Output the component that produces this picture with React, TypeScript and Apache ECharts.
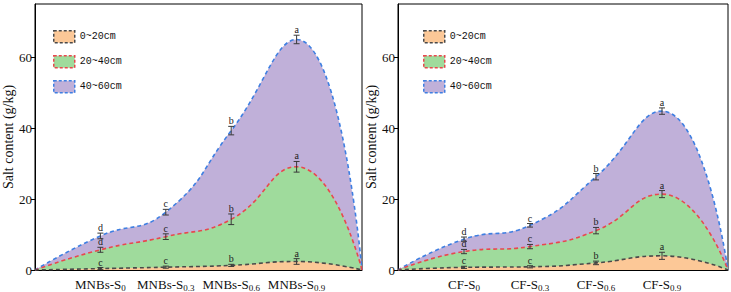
import React, { useEffect, useRef } from "react";
import * as echarts from "echarts";

// Positions on the x value axis: 0 and 5 are the zero end points, 1..4 are treatments
const xPos = [1, 2, 3, 4];
const mnbsCats = ["S0", "S0.3", "S0.6", "S0.9"];
const cfCats = ["S0", "S0.3", "S0.6", "S0.9"];
const layerNames = ["0~20cm", "20~40cm", "40~60cm"];

// MNBs treatments, salt content (g/kg) by layer
const mnbs0_20 = [0.4, 0.8, 1.3, 2.4];
const mnbs20_40 = [5.7, 9.4, 14.3, 29.1];
const mnbs40_60 = [9.6, 16.3, 39.3, 65.0];
const mnbsErr0_20 = [0.3, 0.3, 0.3, 0.8];
const mnbsErr20_40 = [0.7, 0.8, 1.5, 1.5];
const mnbsErr40_60 = [0.8, 0.8, 1.2, 1.2];
const mnbsSig0_20 = ["c", "c", "b", "a"];
const mnbsSig20_40 = ["d", "c", "b", "a"];
const mnbsSig40_60 = ["d", "c", "b", "a"];

// CF treatments, salt content (g/kg) by layer
const cf0_20 = [0.75, 0.9, 2.0, 4.0];
const cf20_40 = [5.2, 6.6, 11.1, 21.4];
const cf40_60 = [8.7, 12.6, 26.3, 44.8];
const cfErr0_20 = [0.3, 0.3, 0.5, 1.0];
const cfErr20_40 = [0.6, 0.6, 0.9, 1.0];
const cfErr40_60 = [0.6, 0.5, 0.9, 0.9];
const cfSig0_20 = ["c", "c", "b", "a"];
const cfSig20_40 = ["d", "c", "b", "a"];
const cfSig40_60 = ["d", "c", "b", "a"];

const yTicks = [0, 20, 40, 60];

const fills = ["#FCC897", "#9FDB9C", "#C0B0D9"];
const strokes = ["#4a4a4a", "#E8484E", "#3E7FE2"];

const SERIF = "'Liberation Serif', 'Times New Roman', serif";

function curve(vals: number[]) {
  return [[0, 0], ...vals.map((v, i) => [xPos[i], v]), [5, 0]];
}

function errData(vals: number[], errs: number[], sig: string[]) {
  return vals.map((v, i) => [xPos[i], v, errs[i], sig[i]]);
}

function buildPanel(
  idx: number,
  prefix: string,
  cats: string[],
  layers: number[][],
  errs: number[][],
  sigs: string[][]
) {
  const series: any[] = [];
  // draw deepest layer first so shallower ones sit on top
  for (let k = 2; k >= 0; k--) {
    series.push({
      type: "line",
      name: layerNames[k],
      xAxisIndex: idx,
      yAxisIndex: idx,
      data: curve(layers[k]),
      smooth: 0.5,
      symbol: "none",
      itemStyle: { color: fills[k] },
      lineStyle: { color: strokes[k], width: 1.6, type: [4, 3] },
      areaStyle: { color: fills[k], opacity: 1 },
      z: 2 + (2 - k),
    });
  }
  for (let k = 0; k < 3; k++) {
    series.push({
      type: "custom",
      xAxisIndex: idx,
      yAxisIndex: idx,
      data: errData(layers[k], errs[k], sigs[k]),
      encode: { x: 0, y: 1 },
      z: 10,
      silent: true,
      renderItem: (params: any, api: any) => {
        const x = api.value(0);
        const y = api.value(1);
        const e = api.value(2);
        const letter = sigs[k][params.dataIndex];
        const top = api.coord([x, y + e]);
        const bot = api.coord([x, y - e]);
        const hw = 3;
        const st = { stroke: "#3a3a3a", lineWidth: 1 };
        return {
          type: "group",
          children: [
            { type: "line", shape: { x1: top[0], y1: top[1], x2: bot[0], y2: bot[1] }, style: st },
            { type: "line", shape: { x1: top[0] - hw, y1: top[1], x2: top[0] + hw, y2: top[1] }, style: st },
            { type: "line", shape: { x1: bot[0] - hw, y1: bot[1], x2: bot[0] + hw, y2: bot[1] }, style: st },
            {
              type: "text",
              x: top[0],
              y: top[1] - 0.5,
              style: {
                text: letter,
                fill: "#222",
                font: `10px ${SERIF}`,
                textAlign: "center",
                textVerticalAlign: "bottom",
              },
            },
          ],
        };
      },
    });
  }

  const xAxis = {
    type: "value",
    gridIndex: idx,
    min: 0,
    max: 5,
    interval: 1,
    axisLine: { show: true, onZero: false, lineStyle: { color: "#000", width: 1 } },
    axisTick: { show: false },
    splitLine: { show: false },
    axisLabel: {
      margin: 6,
      showMinLabel: true,
      showMaxLabel: true,
      formatter: (v: number) => {
        const i = xPos.indexOf(v);
        if (i < 0) return "";
        const [base, sub] = cats[i].split("S");
        return `{m|${prefix}-S}{s|${sub ?? base}}`;
      },
      rich: {
        m: { fontFamily: SERIF, fontSize: 13, color: "#111", lineHeight: 16 },
        s: {
          fontFamily: SERIF,
          fontSize: 9,
          color: "#111",
          lineHeight: 16,
          verticalAlign: "bottom",
          padding: [7, 0, 0, 0],
        },
      },
    },
  };

  const yAxis = {
    type: "value",
    gridIndex: idx,
    min: 0,
    max: 75,
    interval: 20,
    name: "Salt content (g/kg)",
    nameLocation: "middle",
    nameGap: 20,
    nameRotate: 90,
    nameTextStyle: { fontFamily: SERIF, fontSize: 14, color: "#111" },
    axisLine: { show: true, lineStyle: { color: "#000", width: 1 } },
    axisTick: { show: true, inside: false, length: 4, lineStyle: { color: "#000" } },
    splitLine: { show: false },
    axisLabel: {
      margin: 3,
      fontFamily: SERIF,
      fontSize: 13,
      color: "#111",
      showMaxLabel: false,
      formatter: (v: number) => (yTicks.includes(v) ? String(v) : ""),
    },
  };

  return { series, xAxis, yAxis };
}

export default function App() {
  const ref = useRef<HTMLDivElement>(null);

  useEffect(() => {
    if (!ref.current) return;
    const chart = echarts.init(ref.current, undefined, { renderer: "svg" });

    const p1 = buildPanel(
      0,
      "MNBs",
      mnbsCats,
      [mnbs0_20, mnbs20_40, mnbs40_60],
      [mnbsErr0_20, mnbsErr20_40, mnbsErr40_60],
      [mnbsSig0_20, mnbsSig20_40, mnbsSig40_60]
    );
    const p2 = buildPanel(
      1,
      "CF",
      cfCats,
      [cf0_20, cf20_40, cf40_60],
      [cfErr0_20, cfErr20_40, cfErr40_60],
      [cfSig0_20, cfSig20_40, cfSig40_60]
    );

    const legendData = layerNames.map((n, k) => ({
      name: n,
      icon: "rect",
      itemStyle: {
        color: fills[k],
        borderColor: strokes[k],
        borderWidth: 1.5,
        borderType: [3, 2],
      },
    }));
    const legendBase = {
      orient: "vertical",
      top: 25,
      itemWidth: 21,
      itemHeight: 12,
      itemGap: 11.5,
      data: legendData,
      textStyle: { fontFamily: "'Liberation Mono', monospace", fontSize: 10, color: "#111" },
      selectedMode: false,
    };

    chart.setOption({
      animation: false,
      backgroundColor: "#fff",
      grid: [
        { left: 33, right: 369, top: 4, bottom: 21, show: true, borderColor: "#000", borderWidth: 1 },
        { left: 398, right: 3, top: 4, bottom: 21, show: true, borderColor: "#000", borderWidth: 1 },
      ],
      legend: [
        { ...legendBase, left: 48 },
        { ...legendBase, left: 418 },
      ],
      xAxis: [p1.xAxis, p2.xAxis],
      yAxis: [p1.yAxis, p2.yAxis],
      series: [...p1.series, ...p2.series],
    });

    return () => chart.dispose();
  }, []);

  return <div ref={ref} style={{ width: 731, height: 292, position: "absolute", left: 0, top: 0 }} />;
}
